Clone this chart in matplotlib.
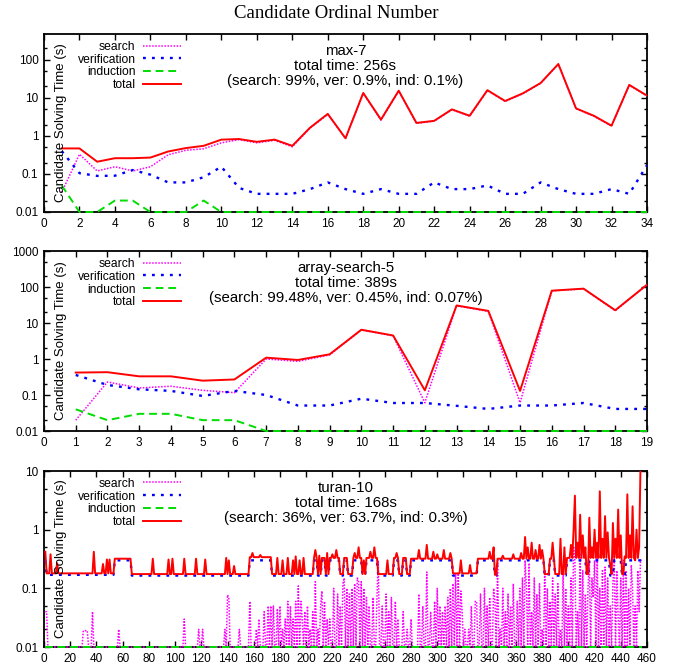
import numpy as np
import matplotlib
matplotlib.use("Agg")
import matplotlib.pyplot as plt
from matplotlib.ticker import LogLocator, FuncFormatter, NullLocator, MultipleLocator

plt.rcParams['font.family'] = ['Liberation Sans', 'DejaVu Sans']

# ---- panel 1: max-7 ----
x1 = list(range(1, 35))
search1 = [0.033, 0.33, 0.12, 0.155, 0.12, 0.155, 0.32, 0.42, 0.46, 0.66, 0.8, 0.66, 0.77, 0.52,
           1.6, 3.7, 0.85, 13.2, 2.6, 15.2, 2.15, 2.45, 4.9, 3.3, 15.7, 8.1, 12.9, 24.2, 77,
           5.2, 3.3, 1.82, 21.6, 11.3]
verif1 = [0.4, 0.105, 0.089, 0.09, 0.127, 0.096, 0.06, 0.06, 0.082, 0.155, 0.043, 0.03, 0.03, 0.03,
          0.04, 0.06, 0.04, 0.03, 0.04, 0.03, 0.03, 0.06, 0.04, 0.04, 0.05, 0.03, 0.03, 0.06, 0.04,
          0.03, 0.03, 0.04, 0.03, 0.17]
induct1 = [0.05, 0.01, 0.01, 0.02, 0.02, 0.01, 0.01, 0.01, 0.02, 0.01, 0.01, 0.01, 0.01, 0.01,
           0.01, 0.01, 0.01, 0.01, 0.01, 0.01, 0.01, 0.01, 0.01, 0.01, 0.01, 0.01, 0.01, 0.01,
           0.01, 0.01, 0.01, 0.01, 0.01, 0.01]
total1 = [0.47, 0.47, 0.21, 0.26, 0.26, 0.27, 0.39, 0.48, 0.55, 0.8, 0.83, 0.7, 0.8, 0.55,
          1.65, 3.8, 0.87, 13.5, 2.7, 15.5, 2.2, 2.5, 5.0, 3.4, 16, 8.3, 13.2, 24.6, 78,
          5.3, 3.4, 1.86, 22, 11.5]

# ---- panel 2: array-search-5 ----
x2 = list(range(1, 20))
search2 = [0.02, 0.23, 0.157, 0.175, 0.135, 0.116, 1.0, 0.86, 1.3, 6.4, 4.4, 0.061, 30, 21,
           0.061, 78, 89, 22, 114]
verif2 = [0.36, 0.19, 0.144, 0.13, 0.094, 0.13, 0.1, 0.051, 0.051, 0.079, 0.06, 0.06, 0.05,
          0.041, 0.051, 0.051, 0.06, 0.041, 0.041]
induct2 = [0.04, 0.02, 0.03, 0.03, 0.02, 0.02, 0.01, 0.01, 0.01, 0.01, 0.01, 0.01, 0.01, 0.01,
           0.01, 0.01, 0.01, 0.01, 0.01]
total2 = [0.42, 0.43, 0.33, 0.33, 0.25, 0.27, 1.09, 0.94, 1.35, 6.5, 4.5, 0.135, 30.7, 21.7,
          0.13, 79, 90, 22.6, 116]

# ---- panel 3: turan-10 (456 candidates) ----
n3 = 456
# (first candidate, value) runs
verif3_runs = [(1, 0.30), (2, 0.17), (54, 0.30), (67, 0.165), (157, 0.30), (174, 0.165),
               (206, 0.30), (209, 0.165), (212, 0.30), (215, 0.165), (218, 0.30), (226, 0.165),
               (229, 0.30), (232, 0.165), (236, 0.30), (243, 0.165), (246, 0.30), (255, 0.165),
               (267, 0.30), (271, 0.165), (274, 0.30), (277, 0.165), (280, 0.30), (312, 0.165),
               (331, 0.30), (344, 0.165), (346, 0.30), (382, 0.165), (386, 0.30), (390, 0.165),
               (399, 0.30), (414, 0.165), (416, 0.30), (432, 0.165), (435, 0.30), (441, 0.165),
               (444, 0.30)]
total3_runs = [(1, 0.42), (2, 0.18), (54, 0.32), (67, 0.175), (157, 0.34), (174, 0.175),
               (206, 0.33), (209, 0.175), (212, 0.33), (215, 0.175), (218, 0.33), (226, 0.175),
               (229, 0.33), (232, 0.175), (236, 0.33), (243, 0.175), (246, 0.33), (255, 0.175),
               (267, 0.33), (271, 0.175), (274, 0.33), (277, 0.175), (280, 0.32), (312, 0.18),
               (331, 0.32), (344, 0.17), (346, 0.32), (382, 0.175), (386, 0.32), (390, 0.175),
               (399, 0.33), (414, 0.175), (416, 0.33), (432, 0.175), (435, 0.33), (441, 0.175),
               (444, 0.33)]
total3_peaks = [(5, 0.38), (10, 0.27), (38, 0.42), (45, 0.26), (48, 0.31), (50, 0.31), (83, 0.32),
                (95, 0.31), (98, 0.32), (107, 0.32), (116, 0.32), (123, 0.31), (139, 0.33),
                (141, 0.30), (145, 0.24), (159, 0.4), (165, 0.37), (178, 0.33), (182, 0.3),
                (186, 0.33), (190, 0.3), (192, 0.35), (195, 0.3), (198, 0.33), (207, 0.45),
                (210, 0.36), (216, 0.4), (220, 0.38), (223, 0.45), (237, 0.4), (240, 0.5),
                (244, 0.3), (249, 0.42), (252, 0.5), (262, 0.3), (269, 0.4), (286, 0.45),
                (292, 0.55), (297, 0.42), (300, 0.38), (305, 0.45), (310, 0.4), (318, 0.3),
                (325, 0.25), (340, 0.42), (343, 0.5), (350, 0.36), (358, 0.38), (364, 0.4),
                (367, 0.75), (369, 0.5), (372, 0.6), (375, 0.45), (378, 0.55), (380, 0.45),
                (388, 0.6), (394, 0.7), (397, 0.5), (402, 0.55), (404, 1.0), (405, 3.8),
                (407, 0.6), (409, 1.8), (411, 0.8), (413, 0.5), (416, 1.6), (418, 0.5),
                (420, 1.0), (422, 0.6), (424, 4.5), (426, 0.7), (428, 1.7), (430, 0.9),
                (432, 0.25), (434, 1.3), (436, 0.7), (438, 2.2), (440, 0.8), (443, 0.35),
                (445, 4.0), (447, 0.8), (449, 2.5), (451, 0.3), (452, 1.0), (454, 0.5),
                (455, 10.5), (456, 12)]
search3_base = 0.01
search3_peaks = [(1, 0.04), (2, 0.04), (30, 0.019), (31, 0.019), (32, 0.019), (33, 0.019),
                 (37, 0.04), (57, 0.02), (107, 0.03), (118, 0.02), (121, 0.02), (138, 0.02),
                 (140, 0.077), (141, 0.07), (149, 0.02), (157, 0.06), (162, 0.02), (164, 0.03),
                 (168, 0.04), (171, 0.05), (173, 0.05), (175, 0.05), (178, 0.045), (180, 0.05),
                 (182, 0.02), (184, 0.03), (186, 0.06), (188, 0.05), (190, 0.03), (192, 0.06),
                 (194, 0.11), (196, 0.06), (197, 0.03), (199, 0.04), (201, 0.05), (203, 0.02),
                 (205, 0.04), (207, 0.13), (209, 0.02), (211, 0.05), (212, 0.09), (214, 0.06),
                 (216, 0.03), (218, 0.03), (221, 0.1), (224, 0.08), (226, 0.05), (228, 0.12),
                 (229, 0.15), (231, 0.1), (233, 0.08), (235, 0.1), (237, 0.12), (239, 0.15),
                 (240, 0.13), (242, 0.13), (244, 0.1), (246, 0.07), (248, 0.05), (251, 0.07),
                 (254, 0.07), (255, 0.3), (258, 0.05), (261, 0.08), (263, 0.04), (265, 0.07),
                 (268, 0.06), (270, 0.03), (274, 0.04), (277, 0.02), (280, 0.03), (286, 0.08),
                 (289, 0.05), (292, 0.19), (295, 0.04), (298, 0.06), (300, 0.1), (302, 0.05),
                 (304, 0.04), (306, 0.05), (308, 0.07), (310, 0.1), (312, 0.12), (314, 0.18),
                 (316, 0.18), (318, 0.09), (319, 0.04), (321, 0.02), (324, 0.02), (326, 0.05),
                 (329, 0.06), (330, 0.06), (333, 0.08), (336, 0.1), (338, 0.05), (340, 0.07),
                 (343, 0.1), (344, 0.06), (346, 0.3), (348, 0.02), (350, 0.1), (352, 0.04),
                 (354, 0.08), (356, 0.05), (358, 0.12), (361, 0.06), (363, 0.1), (365, 0.15),
                 (367, 0.3), (368, 0.1), (370, 0.27), (372, 0.04), (374, 0.15), (376, 0.08),
                 (378, 0.12), (380, 0.02), (382, 0.2), (384, 0.1), (386, 0.06), (388, 0.15),
                 (390, 0.08), (392, 0.12), (394, 0.02), (396, 0.2), (398, 0.1), (400, 0.05),
                 (402, 0.15), (404, 0.52), (405, 0.3), (407, 0.04), (409, 0.4), (411, 0.2),
                 (413, 0.08), (415, 0.1), (416, 0.3), (418, 0.15), (419, 0.07), (420, 0.3),
                 (422, 0.45), (424, 0.1), (426, 0.2), (428, 0.23), (430, 0.15), (432, 0.05),
                 (434, 0.12), (435, 0.35), (437, 0.2), (438, 0.03), (440, 0.15), (442, 0.3),
                 (444, 0.2), (446, 0.1), (448, 0.25), (449, 0.1), (451, 0.05), (453, 0.2),
                 (454, 0.04), (455, 0.3), (456, 0.3)]
induct3_value = 0.01

panels = [
    dict(x=x1, s=search1, v=verif1, i=induct1, t=total1, xmax=34, xstep=2, ylim=(0.01, 480),
         title="max-7\ntotal time: 256s\n(search: 99%, ver: 0.9%, ind: 0.1%)"),
    dict(x=x2, s=search2, v=verif2, i=induct2, t=total2, xmax=19, xstep=1, ylim=(0.01, 1000),
         title="array-search-5\ntotal time: 389s\n(search: 99.48%, ver: 0.45%, ind: 0.07%)"),
]


def expand(runs, n):
    out = np.zeros(n)
    for k, (start, val) in enumerate(runs):
        end = runs[k + 1][0] if k + 1 < len(runs) else n + 1
        out[start - 1:end - 1] = val
    return out


x3 = np.arange(1, n3 + 1)
verif3 = expand(verif3_runs, n3)
total3 = expand(total3_runs, n3)
for xx, val in total3_peaks:
    total3[xx - 1] = val
search3 = np.full(n3, search3_base)
for xx, val in search3_peaks:
    search3[xx - 1] = val
induct3 = np.full(n3, induct3_value)
panels.append(dict(x=x3, s=search3, v=verif3, i=induct3, t=total3, xmax=460, xstep=20,
                   ylim=(0.01, 10),
                   title="turan-10\ntotal time: 168s\n(search: 36%, ver: 63.7%, ind: 0.3%)"))

fig = plt.figure(figsize=(6.73, 6.68), dpi=100)
W, H = 673.0, 668.0
boxes = [(34, 212), (251, 431), (471, 647)]

for p, (top, bot) in zip(panels, boxes):
    ax = fig.add_axes([44 / W, 1 - bot / H, (647 - 44) / W, (bot - top) / H])
    ax.plot(p['x'], p['s'], color='#ff00ff', lw=1.1, ls=(0, (1, 1)), label='search',
            clip_on=False, zorder=3)
    ax.plot(p['x'], p['v'], color='#0000ff', lw=1.7, ls=(0, (1.2, 2.6)), label='verification',
            zorder=3)
    ax.plot(p['x'], p['i'], color='#00dd00', lw=1.4, ls=(0, (4, 2.5)), label='induction',
            clip_on=False, zorder=3)
    ax.plot(p['x'], p['t'], color='#ff0000', lw=1.4, label='total', zorder=3)
    ax.set_yscale('log')
    ax.set_ylim(*p['ylim'])
    ax.set_xlim(0, p['xmax'])
    ax.xaxis.set_major_locator(MultipleLocator(p['xstep']))
    ax.xaxis.set_minor_locator(NullLocator())
    ax.yaxis.set_major_locator(LogLocator(base=10))
    ax.yaxis.set_minor_locator(LogLocator(base=10, subs=(2, 5)))
    ax.yaxis.set_major_formatter(FuncFormatter(lambda v, pos: '%g' % v))
    ax.tick_params(which='both', direction='in', top=True, right=True, labelsize=8.5,
                   width=1.0, pad=4)
    ax.tick_params(which='major', length=4.5)
    ax.tick_params(which='minor', length=2.5)
    for sp in ax.spines.values():
        sp.set_linewidth(1.3)
    ax.text(0.028, 0.5, 'Candidate Solving Time (s)', rotation=90, transform=ax.transAxes,
            ha='center', va='center', fontsize=9.5)
    ax.text(0.5, 0.945, p['title'], transform=ax.transAxes, ha='center', va='top',
            fontsize=10.8, linespacing=1.1)
    ax.legend(loc='upper right', bbox_to_anchor=(0.228, 0.962), frameon=False, fontsize=8.7,
              markerfirst=False, alignment='right', handlelength=3.2, handletextpad=0.6,
              labelspacing=0.07, borderpad=0, borderaxespad=0)

fig.text(0.5, 1 - 13 / H, 'Candidate Ordinal Number', ha='center', va='center',
         fontsize=13.5, family='Liberation Serif')

fig.savefig('out.png', dpi=100)
